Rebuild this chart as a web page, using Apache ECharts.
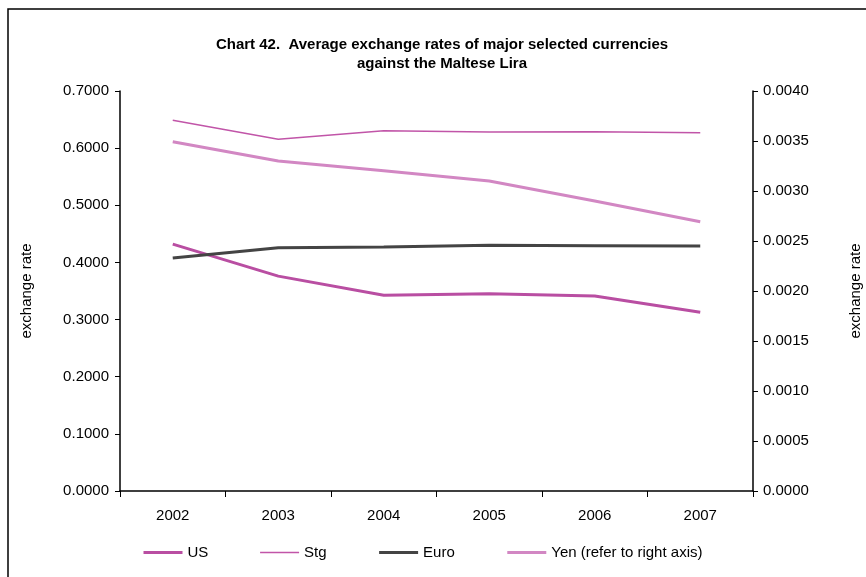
<!DOCTYPE html>
<html>
<head>
<meta charset="utf-8">
<script src="https://cdn.jsdelivr.net/npm/echarts@6/dist/echarts.min.js"></script>
<style>
    html, body { margin: 0; padding: 0; background: #fff; }
    #chart42 { width: 866px; height: 577px; }
</style>
</head>
<body>
<div id="chart42"></div>
<script>
var years = ['2002', '2003', '2004', '2005', '2006', '2007'];
var usRate = [0.432, 0.376, 0.3425, 0.3453, 0.3413, 0.3127];
var stgRate = [0.649, 0.6155, 0.6305, 0.6283, 0.6288, 0.6270];
var euroRate = [0.4078, 0.4258, 0.4270, 0.4300, 0.4293, 0.4288];
// yen is on the right axis
var yenRate = [0.003493, 0.003300, 0.003203, 0.003100, 0.002900, 0.002693];

(function () {
    var dom = document.getElementById("chart42");
    var myChart = echarts.init(dom);
    var option = null;

    var axisFont = { color: '#000', fontSize: 15, fontFamily: 'Liberation Sans, Arial, sans-serif' };
    var fmt4 = function (v) { return v.toFixed(4); };

    option = {
        animation: false,
        backgroundColor: '#fff',
        textStyle: { fontFamily: 'Liberation Sans, Arial, sans-serif' },
        title: {
            text: 'Chart 42.  Average exchange rates of major selected currencies\nagainst the Maltese Lira',
            left: 437,
            textAlign: 'center',
            top: 30,
            textStyle: { fontSize: 15, fontWeight: 'bold', color: '#000', lineHeight: 19 }
        },
        legend: {
            left: 137,
            top: 540,
            itemWidth: 39,
            itemHeight: 14,
            itemGap: 51,
            itemStyle: { opacity: 0 },
            lineStyle: { width: 'inherit' },
            textStyle: { fontSize: 15, color: '#000' },
            data: ['US', 'Stg', 'Euro', 'Yen (refer to right axis)']
        },
        grid: { left: 120, right: 113, top: 91, bottom: 86, outerBoundsMode: 'none', containLabel: false },
        graphic: [{
            type: 'polyline',
            shape: { points: [[8, 577], [8, 9], [866, 9]] },
            style: { stroke: '#000', lineWidth: 1.5, fill: null }
        }],
        xAxis: {
            type: 'category',
            data: years,
            boundaryGap: true,
            axisLine: { lineStyle: { color: '#000', width: 1.5 } },
            axisTick: { show: true, inside: false, length: 6, lineStyle: { color: '#000' } },
            axisLabel: Object.assign({ margin: 17 }, axisFont),
            splitLine: { show: false }
        },
        yAxis: [{
            type: 'value',
            min: 0,
            max: 0.7,
            interval: 0.1,
            name: 'exchange rate',
            nameLocation: 'middle',
            nameGap: 86,
            nameTextStyle: axisFont,
            axisLine: { show: true, lineStyle: { color: '#000', width: 1.5 } },
            axisTick: { show: true, length: 5, lineStyle: { color: '#000' } },
            axisLabel: Object.assign({ margin: 11, formatter: fmt4 }, axisFont),
            splitLine: { show: false }
        }, {
            type: 'value',
            position: 'right',
            min: 0,
            max: 0.004,
            interval: 0.0005,
            name: 'exchange rate',
            nameLocation: 'middle',
            nameGap: 95,
            nameTextStyle: axisFont,
            axisLine: { show: true, lineStyle: { color: '#000', width: 1.5 } },
            axisTick: { show: true, length: 5, lineStyle: { color: '#000' } },
            axisLabel: Object.assign({ margin: 10, formatter: fmt4 }, axisFont),
            splitLine: { show: false }
        }],
        series: [{
            name: 'US',
            type: 'line',
            data: usRate,
            symbol: 'none',
            color: '#b94ea2',
            lineStyle: { color: '#b94ea2', width: 3 }
        }, {
            name: 'Stg',
            type: 'line',
            data: stgRate,
            symbol: 'none',
            color: '#c155a8',
            lineStyle: { color: '#c155a8', width: 1.5 }
        }, {
            name: 'Euro',
            type: 'line',
            data: euroRate,
            symbol: 'none',
            color: '#444444',
            lineStyle: { color: '#444444', width: 3 }
        }, {
            name: 'Yen (refer to right axis)',
            type: 'line',
            yAxisIndex: 1,
            data: yenRate,
            symbol: 'none',
            color: '#d287c3',
            lineStyle: { color: '#d287c3', width: 3 }
        }]
    };
    if (option && typeof option === "object") {
        myChart.setOption(option, true);
    }
})();
</script>
</body>
</html>
